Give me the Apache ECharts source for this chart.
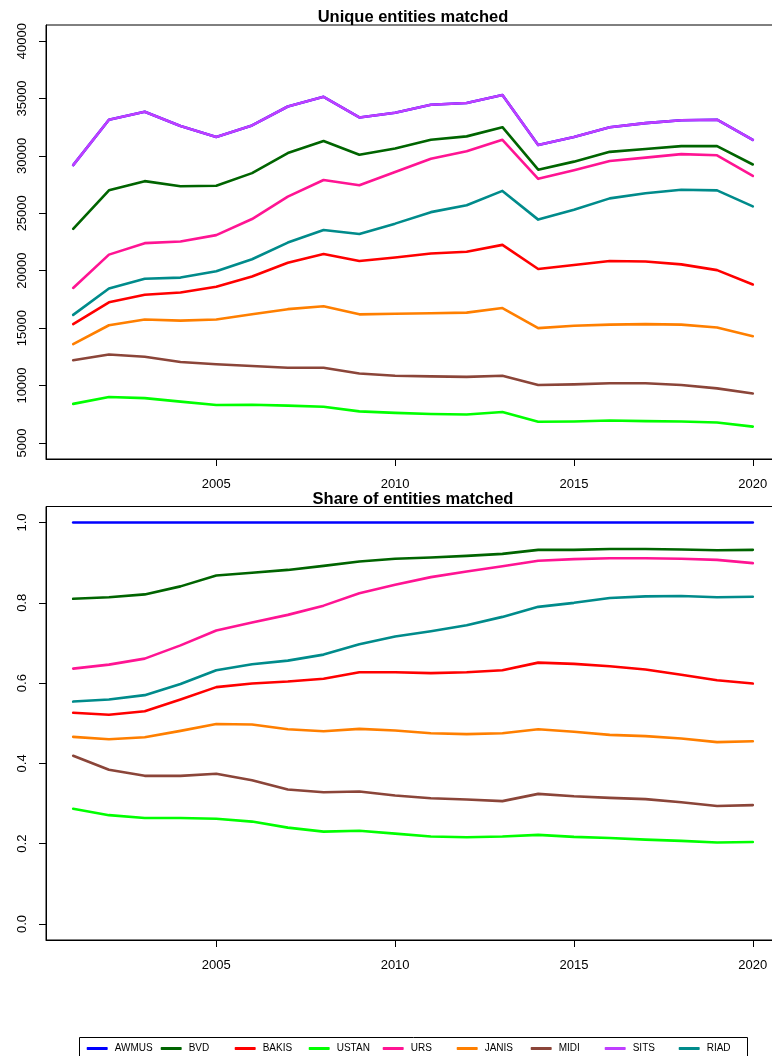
<!DOCTYPE html>
<html>
<head>
<meta charset="utf-8">
<title>Entities matched</title>
<script src="https://cdn.jsdelivr.net/npm/echarts@6/dist/echarts.min.js"></script>
<style>
  html, body { margin: 0; padding: 0; background: #ffffff; overflow: hidden; }
  /* the plot frame runs a little past the right edge of the window */
  #chart { width: 800px; height: 1056px; }
</style>
</head>
<body>
<div id="chart"></div>
<script>
// Years on the x axis
const years = [2001, 2002, 2003, 2004, 2005, 2006, 2007, 2008, 2009, 2010,
               2011, 2012, 2013, 2014, 2015, 2016, 2017, 2018, 2019, 2020];

// Unique entities matched (counts)
const awmusCount = [29200, 33150, 33850, 32600, 31650, 32650, 34300, 35150, 33350, 33750,
                    34450, 34600, 35300, 30950, 31650, 32500, 32850, 33100, 33150, 31400];
const bvdCount   = [23650, 27000, 27800, 27350, 27400, 28500, 30250, 31300, 30100, 30650,
                    31400, 31700, 32500, 28800, 29500, 30350, 30600, 30850, 30850, 29250];
const bakisCount = [15350, 17250, 17900, 18100, 18600, 19500, 20700, 21450, 20850, 21150,
                    21500, 21650, 22250, 20150, 20500, 20850, 20800, 20550, 20050, 18800];
const ustanCount = [8400, 9000, 8900, 8600, 8300, 8330, 8250, 8150, 7750, 7620,
                    7520, 7470, 7700, 6850, 6870, 6950, 6900, 6870, 6780, 6420];
const ursCount   = [18500, 21400, 22400, 22550, 23100, 24500, 26450, 27900, 27450, 28600,
                    29750, 30400, 31400, 28000, 28750, 29550, 29850, 30150, 30050, 28250];
const janisCount = [13600, 15250, 15750, 15650, 15750, 16200, 16650, 16900, 16200, 16250,
                    16300, 16350, 16750, 15000, 15200, 15300, 15350, 15300, 15050, 14300];
const midiCount  = [12200, 12700, 12500, 12050, 11850, 11700, 11550, 11550, 11050, 10850,
                    10800, 10750, 10850, 10050, 10100, 10200, 10200, 10050, 9750, 9300];
const sitsCount  = [29200, 33150, 33850, 32600, 31650, 32650, 34300, 35150, 33350, 33750,
                    34450, 34600, 35300, 30950, 31650, 32500, 32850, 33100, 33150, 31400];
const riadCount  = [16150, 18450, 19300, 19400, 19950, 21000, 22450, 23550, 23200, 24100,
                    25100, 25700, 26950, 24450, 25300, 26300, 26750, 27050, 27000, 25600];

// Share of entities matched
const awmusShare = [1, 1, 1, 1, 1, 1, 1, 1, 1, 1, 1, 1, 1, 1, 1, 1, 1, 1, 1, 1];
const bvdShare   = [0.810, 0.814, 0.821, 0.841, 0.868, 0.875, 0.882, 0.892, 0.903, 0.910,
                    0.913, 0.917, 0.922, 0.932, 0.932, 0.934, 0.934, 0.933, 0.931, 0.932];
const bakisShare = [0.526, 0.521, 0.530, 0.559, 0.590, 0.599, 0.604, 0.611, 0.627, 0.627,
                    0.625, 0.627, 0.632, 0.651, 0.648, 0.642, 0.634, 0.621, 0.607, 0.599];
const ustanShare = [0.287, 0.271, 0.264, 0.264, 0.262, 0.255, 0.240, 0.230, 0.232, 0.225,
                    0.218, 0.216, 0.218, 0.222, 0.217, 0.214, 0.210, 0.207, 0.203, 0.204];
const ursShare   = [0.636, 0.646, 0.661, 0.694, 0.731, 0.751, 0.770, 0.793, 0.824, 0.845,
                    0.864, 0.878, 0.891, 0.905, 0.909, 0.911, 0.911, 0.910, 0.907, 0.899];
const janisShare = [0.466, 0.460, 0.465, 0.481, 0.498, 0.497, 0.485, 0.480, 0.486, 0.482,
                    0.475, 0.473, 0.475, 0.485, 0.479, 0.471, 0.468, 0.462, 0.453, 0.455];
const midiShare  = [0.419, 0.384, 0.369, 0.369, 0.374, 0.358, 0.335, 0.328, 0.330, 0.320,
                    0.313, 0.310, 0.306, 0.324, 0.318, 0.314, 0.311, 0.303, 0.294, 0.296];
const riadShare  = [0.554, 0.559, 0.570, 0.598, 0.632, 0.647, 0.656, 0.671, 0.697, 0.716,
                    0.729, 0.744, 0.765, 0.790, 0.800, 0.812, 0.816, 0.817, 0.814, 0.815];

// Tick labels
const yearTicks  = [2005, 2010, 2015, 2020];
const countTicks = [5000, 10000, 15000, 20000, 25000, 30000, 35000, 40000];
const shareTicks = [0, 0.2, 0.4, 0.6, 0.8, 1.0];

const titles = ['Unique entities matched', 'Share of entities matched'];

const colors = {
  AWMUS: '#0000ff', BVD: '#006400', BAKIS: '#ff0000', USTAN: '#00ff00',
  URS: '#ff1493', JANIS: '#ff7f00', MIDI: '#8b4539', SITS: '#bf3eff', RIAD: '#008b8b'
};
const legendNames = ['AWMUS', 'BVD', 'BAKIS', 'USTAN', 'URS', 'JANIS', 'MIDI', 'SITS', 'RIAD'];

const countSeries = [
  ['AWMUS', awmusCount], ['BVD', bvdCount], ['BAKIS', bakisCount], ['USTAN', ustanCount],
  ['URS', ursCount], ['JANIS', janisCount], ['MIDI', midiCount], ['SITS', sitsCount], ['RIAD', riadCount]
];
const shareSeries = [
  ['AWMUS', awmusShare], ['BVD', bvdShare], ['BAKIS', bakisShare], ['USTAN', ustanShare],
  ['URS', ursShare], ['JANIS', janisShare], ['MIDI', midiShare], ['RIAD', riadShare]
];

const FONT = 'Liberation Sans, Arial, Helvetica, sans-serif';

function lineSeries(name, values, idx) {
  return {
    type: 'line',
    name: name,
    xAxisIndex: idx,
    yAxisIndex: idx,
    data: years.map((y, i) => [y, values[i]]),
    showSymbol: false,
    symbol: 'none',
    lineStyle: { color: colors[name], width: 2.6, cap: 'round', join: 'round' },
    itemStyle: { color: colors[name] },
    emphasis: { disabled: true },
    animation: false
  };
}

function xAxis(idx) {
  return {
    type: 'value', gridIndex: idx, min: 2000.24, max: 2020.76,
    axisLine: { show: true, onZero: false, lineStyle: { color: '#000', width: 1 } },
    axisTick: { show: true, length: 7, lineStyle: { color: '#000' }, customValues: yearTicks },
    axisLabel: { show: true, customValues: yearTicks, margin: 19, color: '#000',
                 fontFamily: FONT, fontSize: 13, formatter: v => String(v) },
    splitLine: { show: false }
  };
}

function yAxis(idx, min, max, ticks, fmt) {
  return {
    type: 'value', gridIndex: idx, min: min, max: max,
    axisLine: { show: true, onZero: false, lineStyle: { color: '#000', width: 1 } },
    axisTick: { show: true, length: 7, lineStyle: { color: '#000' }, customValues: ticks },
    axisLabel: { show: true, customValues: ticks, rotate: 90, margin: 17, color: '#000',
                 fontFamily: FONT, fontSize: 13, formatter: fmt },
    splitLine: { show: false }
  };
}

// One legend entry per fixed-width column inside the framed key
const legendColumn = 74;
const legends = legendNames.map((name, i) => ({
  data: [name],
  left: 86.7 + legendColumn * i,
  top: 1043.5,
  padding: 0,
  itemWidth: 21, itemHeight: 3,
  icon: 'roundRect',
  selectedMode: false,
  textStyle: { fontFamily: FONT, fontSize: 10, color: '#000', padding: [0, 0, 0, 2] }
}));

const chart = echarts.init(document.getElementById('chart'), null, { renderer: 'canvas' });

chart.setOption({
  animation: false,
  backgroundColor: '#ffffff',
  grid: [
    { left: 46, top: 25, width: 734, height: 434, show: true,
      borderColor: '#000', borderWidth: 1, backgroundColor: 'transparent', containLabel: false },
    { left: 46, top: 506.5, width: 734, height: 433.5, show: true,
      borderColor: '#000', borderWidth: 1, backgroundColor: 'transparent', containLabel: false }
  ],
  xAxis: [xAxis(0), xAxis(1)],
  yAxis: [
    yAxis(0, 3600, 41400, countTicks, v => String(v)),
    yAxis(1, -0.04, 1.04, shareTicks, v => v.toFixed(1))
  ],
  legend: legends,
  graphic: [
    { type: 'text', x: 413, y: 17, silent: true,
      style: { text: titles[0], font: 'bold 16.5px ' + FONT, fill: '#000', align: 'center', verticalAlign: 'middle' } },
    { type: 'text', x: 413, y: 499, silent: true,
      style: { text: titles[1], font: 'bold 16.5px ' + FONT, fill: '#000', align: 'center', verticalAlign: 'middle' } },
    { type: 'rect', silent: true, shape: { x: 79.5, y: 1037.5, width: 668, height: 40 },
      style: { fill: 'none', stroke: '#000', lineWidth: 1 } }
  ],
  series: countSeries.map(([n, v]) => lineSeries(n, v, 0))
    .concat(shareSeries.map(([n, v]) => lineSeries(n, v, 1)))
});
</script>
</body>
</html>
